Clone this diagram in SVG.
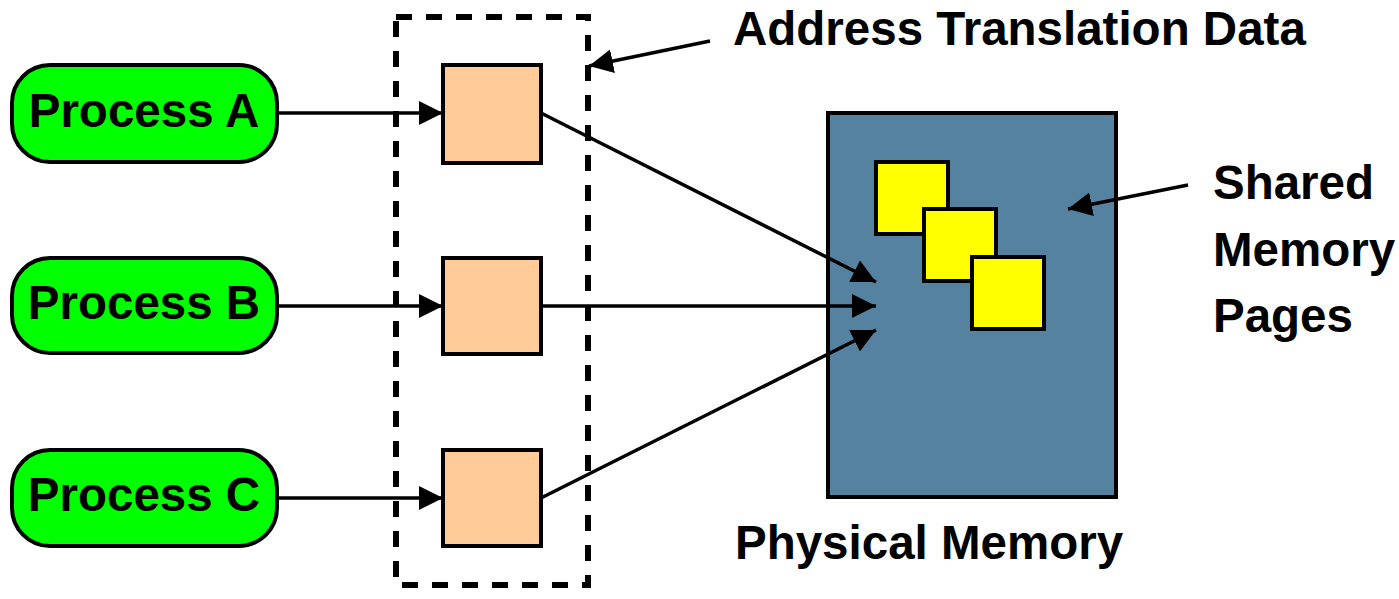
<svg xmlns="http://www.w3.org/2000/svg" width="1399" height="599" viewBox="0 0 1399 599">
<defs>
<style>
.lbl{font-family:"Liberation Sans",Arial,Helvetica,sans-serif;font-weight:bold;font-size:47.5px;fill:#000}
.proc{fill:#00FF00;stroke:#000;stroke-width:4}
.box{fill:#FFCC99;stroke:#000;stroke-width:4}
.page{fill:#FFFF00;stroke:#000;stroke-width:4}
.conn{stroke:#000;stroke-width:3.5;fill:none}
</style>
<marker id="arr" viewBox="0 0 24 24" refX="24" refY="12" markerWidth="24" markerHeight="24" orient="auto" markerUnits="userSpaceOnUse">
<path d="M0,0 L24,12 L0,24 Z" fill="#000"/>
</marker>
</defs>
<rect width="1399" height="599" fill="#fff"/>

<g id="physical-memory">
<rect x="828" y="113" width="288" height="384" fill="#5482A0" stroke="#000" stroke-width="4"/>
<text class="lbl" x="735" y="559">Physical Memory</text>
</g>

<g id="shared-pages">
<rect class="page" x="876" y="162" width="72" height="72"/>
<rect class="page" x="924" y="209" width="72" height="72"/>
<rect class="page" x="972" y="257" width="72" height="72"/>
</g>

<g id="translation-group">
<rect x="396" y="17" width="192" height="568" fill="none" stroke="#000" stroke-width="6" stroke-dasharray="16 14"/>
</g>

<g id="process-a">
<rect class="proc" x="12" y="65" width="265" height="97" rx="38"/>
<text class="lbl" x="144" y="127" text-anchor="middle">Process A</text>
</g>
<g id="process-b">
<rect class="proc" x="12" y="258" width="265" height="95" rx="38"/>
<text class="lbl" x="144" y="319" text-anchor="middle">Process B</text>
</g>
<g id="process-c">
<rect class="proc" x="12" y="450" width="265" height="96" rx="38"/>
<text class="lbl" x="144" y="511" text-anchor="middle">Process C</text>
</g>

<g id="entry-a"><rect class="box" x="443" y="65" width="98" height="98"/></g>
<g id="entry-b"><rect class="box" x="443" y="258" width="98" height="96"/></g>
<g id="entry-c"><rect class="box" x="443" y="450" width="98" height="96"/></g>

<g id="label-atd"><text class="lbl" x="733" y="45">Address Translation Data</text></g>
<g id="label-shared">
<text class="lbl" x="1213" y="199">Shared</text>
<text class="lbl" x="1213" y="266">Memory</text>
<text class="lbl" x="1213" y="332">Pages</text>
</g>

<g id="connectors">
<line class="conn" x1="277" y1="113" x2="443" y2="113" marker-end="url(#arr)"/>
<line class="conn" x1="277" y1="306" x2="443" y2="306" marker-end="url(#arr)"/>
<line class="conn" x1="277" y1="498" x2="443" y2="498" marker-end="url(#arr)"/>
<line class="conn" x1="541" y1="113" x2="876" y2="282" marker-end="url(#arr)"/>
<line class="conn" x1="541" y1="306" x2="876" y2="306" marker-end="url(#arr)"/>
<line class="conn" x1="541" y1="498" x2="876" y2="330" marker-end="url(#arr)"/>
<line class="conn" x1="710" y1="41" x2="589" y2="66" marker-end="url(#arr)"/>
<line class="conn" x1="1188" y1="185" x2="1068" y2="209" marker-end="url(#arr)"/>
</g>
</svg>
